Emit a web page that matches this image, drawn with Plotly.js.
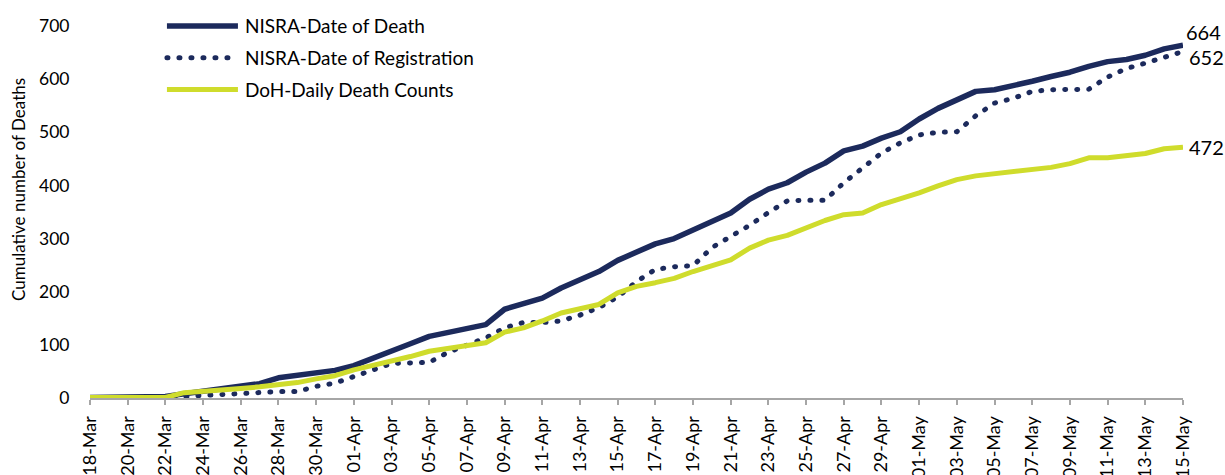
<!DOCTYPE html>
<html>
<head>
<meta charset="utf-8">
<script src="https://cdn.plot.ly/plotly-3.0.1.min.js"></script>
<style>
  html, body { margin: 0; padding: 0; background: #ffffff; }
  #chart { width: 1225px; height: 475px; }
</style>
</head>
<body>
<div id="chart"></div>
<script>
// ---- data ----
const dates = [
  '2020-03-18','2020-03-19','2020-03-20','2020-03-21','2020-03-22','2020-03-23','2020-03-24',
  '2020-03-25','2020-03-26','2020-03-27','2020-03-28','2020-03-29','2020-03-30','2020-03-31',
  '2020-04-01','2020-04-02','2020-04-03','2020-04-04','2020-04-05','2020-04-06','2020-04-07',
  '2020-04-08','2020-04-09','2020-04-10','2020-04-11','2020-04-12','2020-04-13','2020-04-14',
  '2020-04-15','2020-04-16','2020-04-17','2020-04-18','2020-04-19','2020-04-20','2020-04-21',
  '2020-04-22','2020-04-23','2020-04-24','2020-04-25','2020-04-26','2020-04-27','2020-04-28',
  '2020-04-29','2020-04-30','2020-05-01','2020-05-02','2020-05-03','2020-05-04','2020-05-05',
  '2020-05-06','2020-05-07','2020-05-08','2020-05-09','2020-05-10','2020-05-11','2020-05-12',
  '2020-05-13','2020-05-14','2020-05-15'
];

const nisraDateOfDeath = [
  1,1,2,2,3,8,13,17,22,27,38,42,46,52,61,74,89,102,116,124,131,138,167,177,188,207,222,238,
  259,274,290,300,316,332,348,374,393,405,425,442,465,474,489,501,525,545,562,577,580,587,
  596,605,613,624,633,637,645,657,664
];

const nisraDateOfRegistration = [
  0,0,0,0,0,3,5,7,9,11,12,12,22,28,40,52,65,66,67,86,100,113,132,142,142,145,156,170,
  190,219,242,247,249,283,304,325,349,371,372,372,405,434,461,480,495,500,501,531,555,564,
  577,580,580,581,604,620,630,640,652
];

const dohDailyDeathCounts = [
  1,1,1,1,1,10,12,15,18,21,24,29,36,42,53,61,70,78,88,93,98,104,124,132,145,160,168,176,
  198,210,217,225,238,250,260,282,297,306,321,334,345,348,364,374,386,399,411,418,422,426,
  429,434,441,452,452,456,460,469,472
];

const seriesNames = ['NISRA-Date of Death', 'NISRA-Date of Registration', 'DoH-Daily Death Counts'];
const yTitle = 'Cumulative number of Deaths';

// ---- styling ----
const NAVY = '#1c2a5c';
const LIME = '#cfdc2c';
const FONT = 'Lato, "Open Sans", sans-serif';

const traces = [
  {
    x: dates, y: nisraDateOfDeath, name: seriesNames[0], type: 'scatter', mode: 'lines',
    line: { color: NAVY, width: 5.5 }, legendgroup: 'a', hoverinfo: 'x+y'
  },
  {
    x: dates, y: nisraDateOfRegistration, name: seriesNames[1], type: 'scatter', mode: 'lines',
    line: { color: NAVY, width: 5, dash: '1px,11px' }, legendgroup: 'b', hoverinfo: 'x+y'
  },
  {
    x: dates, y: dohDailyDeathCounts, name: seriesNames[2], type: 'scatter', mode: 'lines',
    line: { color: LIME, width: 5 }, legendgroup: 'c', hoverinfo: 'x+y'
  }
];

const last = arr => arr[arr.length - 1];
const lastDate = last(dates);

const layout = {
  width: 1225, height: 475,
  margin: { l: 90, r: 42, t: 26, b: 77, pad: 0, autoexpand: false },
  paper_bgcolor: '#ffffff', plot_bgcolor: '#ffffff',
  font: { family: FONT, size: 17.5, color: '#000000' },
  showlegend: true,
  legend: {
    xref: 'container', yref: 'container',
    x: 0.1322, y: 0.985, xanchor: 'left', yanchor: 'top',
    bgcolor: 'rgba(0,0,0,0)', borderwidth: 0,
    font: { family: FONT, size: 19, color: '#000000' },
    traceorder: 'grouped', tracegroupgap: 4, itemwidth: 73
  },
  xaxis: {
    type: 'date',
    range: [dates[0], lastDate],
    tick0: dates[0], dtick: 2 * 86400000,
    tickformat: '%d-%b', tickangle: -90,
    ticks: 'outside', ticklen: 5, tickwidth: 2, tickcolor: '#a6a6a6',
    ticklabelstandoff: 4,
    showline: true, linecolor: '#a6a6a6', linewidth: 2,
    showgrid: false, zeroline: false, automargin: false,
    tickfont: { family: FONT, size: 18, color: '#000000' },
    fixedrange: true
  },
  yaxis: {
    range: [0, 700], dtick: 100, tick0: 0,
    ticks: 'outside', ticklen: 16, tickcolor: 'rgba(0,0,0,0)',
    showline: false, showgrid: false, zeroline: false, automargin: false,
    tickfont: { family: FONT, size: 17.5, color: '#000000' },
    fixedrange: true
  },
  annotations: [
    {
      xref: 'paper', yref: 'paper', x: -0.065, y: 0.562,
      text: yTitle, textangle: -90, showarrow: false,
      xanchor: 'center', yanchor: 'middle',
      font: { family: FONT, size: 17, color: '#000000' }
    },
    {
      x: lastDate, y: last(nisraDateOfDeath), text: String(last(nisraDateOfDeath)),
      showarrow: false, xanchor: 'left', yanchor: 'middle', xshift: 1, yshift: 13,
      font: { family: FONT, size: 20, color: '#000000' }
    },
    {
      x: lastDate, y: last(nisraDateOfRegistration), text: String(last(nisraDateOfRegistration)),
      showarrow: false, xanchor: 'left', yanchor: 'middle', xshift: 4, yshift: -5,
      font: { family: FONT, size: 20, color: '#000000' }
    },
    {
      x: lastDate, y: last(dohDailyDeathCounts), text: String(last(dohDailyDeathCounts)),
      showarrow: false, xanchor: 'left', yanchor: 'middle', xshift: 4, yshift: 0,
      font: { family: FONT, size: 20, color: '#000000' }
    }
  ]
};

const gd = document.getElementById('chart');
Plotly.newPlot(gd, traces, layout, { displayModeBar: false, staticPlot: true }).then(function () {
  // round-capped dots for the registration series (plot + legend)
  const traceGroups = gd.querySelectorAll('.scatterlayer .trace');
  traceGroups.forEach(function (g, i) {
    g.querySelectorAll('path.js-line').forEach(function (p) {
      p.style.strokeLinejoin = 'round';
      if (i === 1) p.style.strokeLinecap = 'round';
    });
  });
  // longer legend lines as in the reference
  gd.querySelectorAll('.legend .traces').forEach(function (t, i) {
    t.querySelectorAll('.legendlines path').forEach(function (p) {
      p.setAttribute('d', 'M5,0h71');
      if (i === 1) p.style.strokeLinecap = 'round';
    });
  });
});
</script>
</body>
</html>
